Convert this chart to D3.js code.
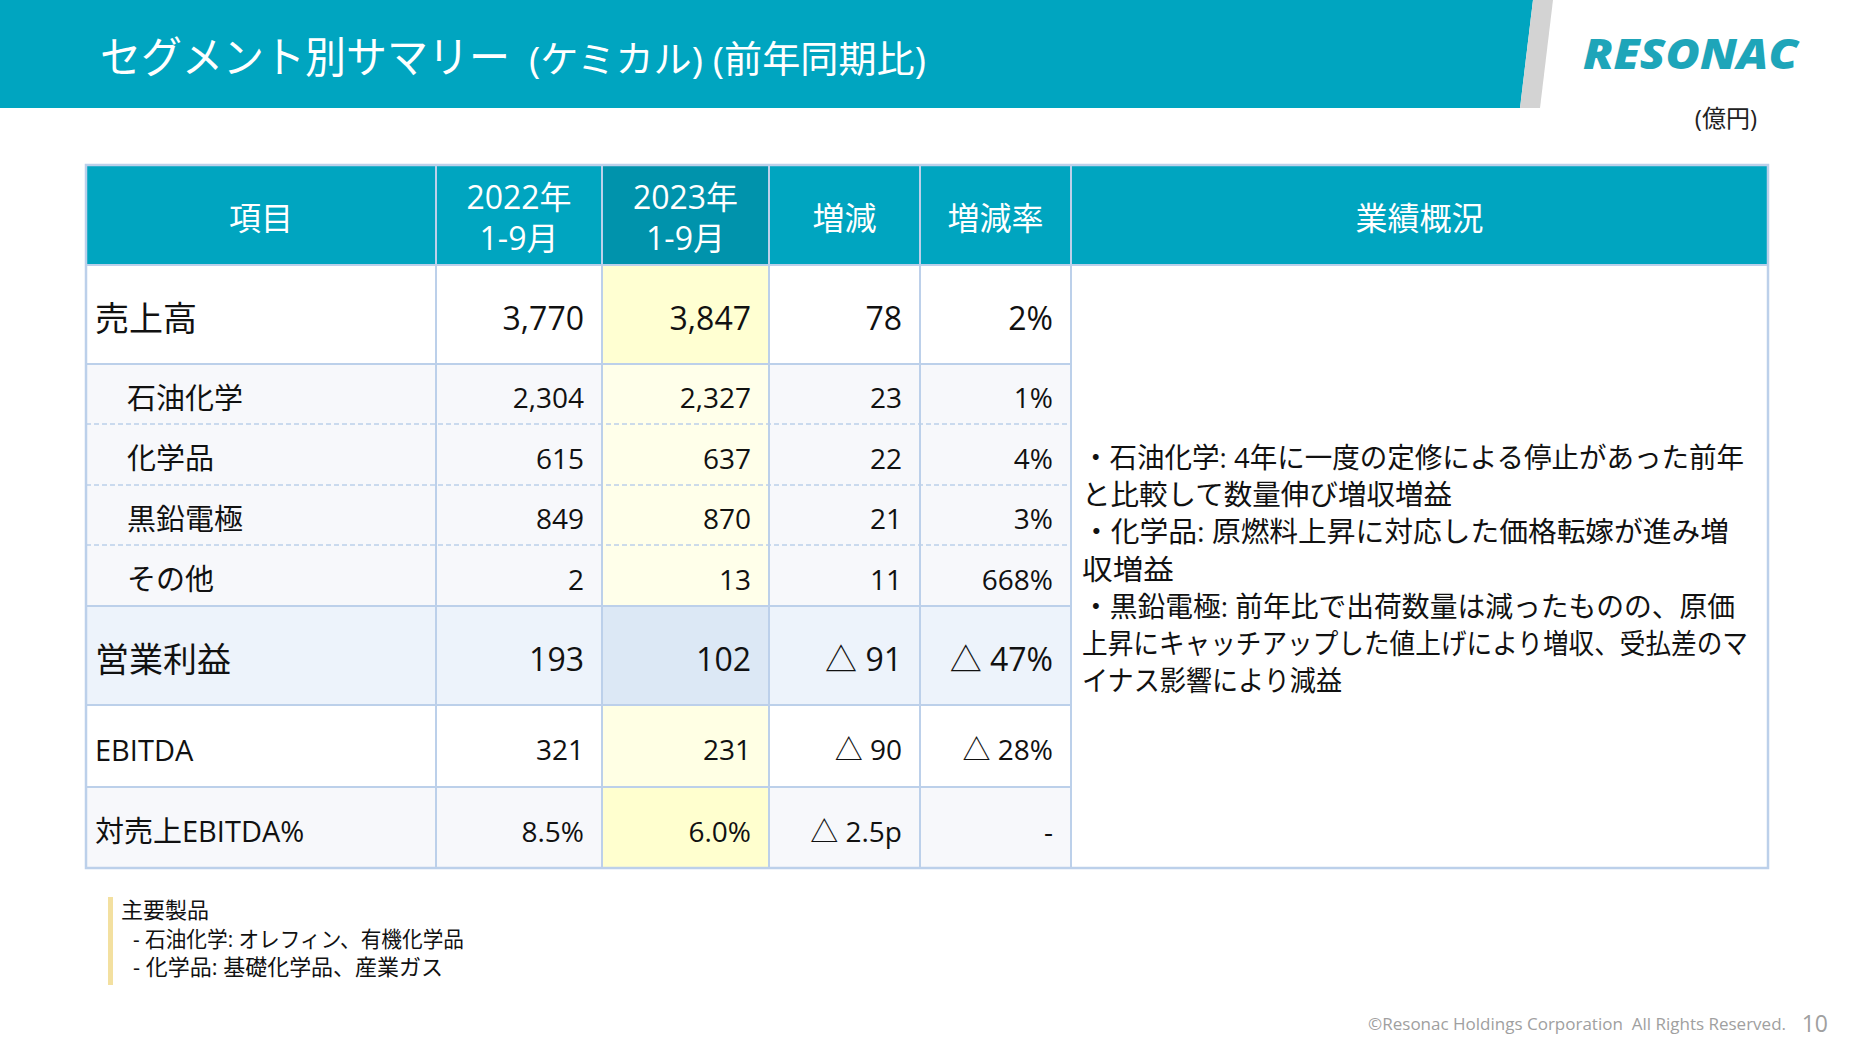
<!DOCTYPE html>
<html><head><meta charset="utf-8">
<script src="https://cdn.jsdelivr.net/npm/d3@7/dist/d3.min.js"></script>
<style>
html,body{margin:0;padding:0;background:#fff;}
svg{display:block;}
text{font-family:"Open Sans","Noto Sans CJK JP",sans-serif;}
</style></head>
<body>
<script>
// ---- data ----
const rowLabels = ["売上高","石油化学","化学品","黒鉛電極","その他","営業利益","EBITDA","対売上EBITDA%"];
const rowKinds  = ["main","sub","sub","sub","sub","main2","ebitda","ratio"];
const v2022 = [3770, 2304, 615, 849, 2, 193, 321, 8.5];
const v2023 = [3847, 2327, 637, 870, 13, 102, 231, 6.0];
const vChange = [78, 23, 22, 21, 11, -91, -90, -2.5];
const vRate = [2, 1, 4, 3, 668, -47, -28, null];
const headers = [["項目"],["2022年","1-9月"],["2023年","1-9月"],["増減"],["増減率"],["業績概況"]];
const summaryLines = [
 "・石油化学: 4年に一度の定修による停止があった前年",
 "と比較して数量伸び増収増益",
 "・化学品: 原燃料上昇に対応した価格転嫁が進み増",
 "収増益",
 "・黒鉛電極: 前年比で出荷数量は減ったものの、原価",
 "上昇にキャッチアップした値上げにより増収、受払差のマ",
 "イナス影響により減益"
];
const noteLines = ["主要製品","- 石油化学: オレフィン、有機化学品","- 化学品: 基礎化学品、産業ガス"];
const titleMain = "セグメント別サマリー";
const titleSub = "(ケミカル) (前年同期比)";
const unitLabel = "(億円)";
const footerText = "©Resonac Holdings Corporation  All Rights Reserved.";
const pageNo = "10";

// ---- layout ----
const W = 1855, H = 1044;
const svg = d3.select("body").append("svg").attr("width", W).attr("height", H);
const TEAL = "#00a5c0", TEAL_D = "#0093ac", GRID = "#bcd0ea";

// banner
svg.append("polygon").attr("points","0,0 1533,0 1520,108 0,108").attr("fill",TEAL);
svg.append("polygon").attr("points","1533,0 1553,0 1540,108 1520,108").attr("fill","#d3d3d3");
svg.append("text").attr("x",100).attr("y",73).attr("fill","#fff").attr("font-size",43)
  .attr("textLength",410).attr("lengthAdjust","spacingAndGlyphs").text(titleMain);
svg.append("text").attr("x",529).attr("y",73).attr("fill","#fff").attr("font-size",37)
  .attr("textLength",397).attr("lengthAdjust","spacingAndGlyphs").text(titleSub);
svg.append("text").attr("x",1583).attr("y",69).attr("fill","#1ea5b9")
  .attr("font-family","Liberation Sans").attr("font-weight",900).attr("font-style","italic")
  .attr("font-size",42).attr("textLength",215).attr("lengthAdjust","spacingAndGlyphs").text("RESONAC");
svg.append("text").attr("x",1757).attr("y",127).attr("text-anchor","end").attr("font-size",24).attr("fill","#222").text(unitLabel);

// table geometry
const colEdges = [86, 436, 602, 769, 920, 1071, 1768];
const rowHeights = [99, 60, 61, 60, 61, 99, 82, 81];
const headTop = 165, headBot = 265;
const rowEdges = [headBot];
rowHeights.forEach(h => rowEdges.push(rowEdges[rowEdges.length-1] + h));
const yBand = d3.scaleOrdinal().domain(d3.range(rowLabels.length)).range(rowEdges.slice(0,-1));
const xCol = d3.scaleOrdinal().domain(d3.range(colEdges.length)).range(colEdges);

const bgRow = {main:"#ffffff", sub:"#f7f8fb", main2:"#edf3fb", ebitda:"#ffffff", ratio:"#f7f8fb"};
const bg23 = {main:"#ffffd2", sub:"#ffffea", main2:"#dce8f5", ebitda:"#ffffe4", ratio:"#ffffcf"};
const numSize = {main:32, sub:28, main2:32, ebitda:28, ratio:28};
const labSize = {main:34, sub:29, main2:34, ebitda:29, ratio:29};

// header
headers.forEach((h,i) => {
  svg.append("rect").attr("x",xCol(i)).attr("y",headTop).attr("width",xCol(i+1)-xCol(i)).attr("height",headBot-headTop)
    .attr("fill", i===2 ? TEAL_D : TEAL);
  const cx = (xCol(i)+xCol(i+1))/2;
  if (h.length===1) {
    svg.append("text").attr("x",cx).attr("y",(headTop+headBot)/2+2).attr("text-anchor","middle")
      .attr("dominant-baseline","central").attr("font-size",32).attr("fill","#fff").text(h[0]);
  } else {
    h.forEach((s,j)=>svg.append("text").attr("x",cx).attr("y",196+j*41).attr("text-anchor","middle")
      .attr("dominant-baseline","central").attr("font-size",32).attr("fill","#fff").text(s));
  }
});

const fmtInt = d3.format(",");
function fmtVal(v,i){ return rowKinds[i]==="ratio" ? d3.format(".1f")(v)+"%" : fmtInt(v); }
function fmtChg(v,i){ const s = rowKinds[i]==="ratio" ? d3.format(".1f")(Math.abs(v))+"p" : fmtInt(Math.abs(v)); return v<0 ? "△ "+s : s; }
function fmtRate(v){ if (v===null) return "-"; return v<0 ? "△ "+Math.abs(v)+"%" : v+"%"; }

// body rows
rowLabels.forEach((lab,i)=>{
  const k = rowKinds[i], y0 = yBand(i), h = rowHeights[i];
  for (let c=0;c<5;c++){
    svg.append("rect").attr("x",xCol(c)).attr("y",y0).attr("width",xCol(c+1)-xCol(c)).attr("height",h)
      .attr("fill", c===2 ? bg23[k] : bgRow[k]);
  }
  const cy = y0 + h/2 + 3;
  svg.append("text").attr("x", k==="sub" ? 127 : 95).attr("y",cy).attr("dominant-baseline","central")
    .attr("font-size",labSize[k]).attr("fill","#111").text(lab);
  const vals = [fmtVal(v2022[i],i), fmtVal(v2023[i],i), fmtChg(vChange[i],i), fmtRate(vRate[i])];
  vals.forEach((s,j)=>{
    svg.append("text").attr("x",xCol(j+2)-18).attr("y",cy).attr("text-anchor","end")
      .attr("dominant-baseline","central").attr("font-size",numSize[k]).attr("fill","#111").text(s);
  });
});
// summary merged cell
svg.append("rect").attr("x",xCol(5)).attr("y",headBot).attr("width",xCol(6)-xCol(5)).attr("height",rowEdges[rowEdges.length-1]-headBot).attr("fill","#fff");
const lineW = [662, 370, 647, 92, 653, 666, 260];
svg.append("g").selectAll("text").data(summaryLines).join("text")
  .attr("x",1082).attr("y",(d,i)=>457+i*37.2).attr("dominant-baseline","central")
  .attr("font-size",28).attr("fill","#111")
  .attr("textLength",(d,i)=>lineW[i]).attr("lengthAdjust","spacingAndGlyphs").text(d=>d);

// grid lines
const tBot = rowEdges[rowEdges.length-1];
const g = svg.append("g").attr("stroke",GRID).attr("fill","none");
rowEdges.forEach((y,i)=>{
  if (i===0 || i===rowEdges.length-1) return;
  const dashed = i>=2 && i<=4;
  g.append("line").attr("x1",colEdges[0]).attr("x2",colEdges[5]).attr("y1",y).attr("y2",y)
    .attr("stroke-width", dashed?1.5:2).attr("stroke-dasharray", dashed?"5,3":null);
});
g.append("line").attr("x1",colEdges[0]).attr("x2",colEdges[6]).attr("y1",headBot).attr("y2",headBot).attr("stroke-width",2);
colEdges.forEach((x,i)=>{
  if (i===0 || i===6) return;
  g.append("line").attr("x1",x).attr("x2",x).attr("y1",headTop).attr("y2",tBot).attr("stroke-width",2);
});
g.append("rect").attr("x",colEdges[0]).attr("y",headTop).attr("width",colEdges[6]-colEdges[0]).attr("height",tBot-headTop).attr("stroke-width",2.5);

// footnote
const noteW = [null, 331, 310];
svg.append("rect").attr("x",108).attr("y",897).attr("width",5).attr("height",88).attr("fill","#f3e0a0");
svg.append("g").selectAll("text").data(noteLines).join("text")
  .attr("x",(d,i)=> i===0 ? 121 : 133).attr("y",(d,i)=>909+i*28.5).attr("dominant-baseline","central")
  .attr("font-size",22).attr("fill","#111")
  .attr("textLength",(d,i)=>noteW[i]).attr("lengthAdjust","spacingAndGlyphs").text(d=>d);

// footer
svg.append("text").attr("x",1786).attr("y",1023).attr("text-anchor","end").attr("dominant-baseline","central")
  .attr("font-size",17).attr("fill","#a0a0a0").style("white-space","pre").text(footerText);
svg.append("text").attr("x",1828).attr("y",1023).attr("text-anchor","end").attr("dominant-baseline","central")
  .attr("font-size",23).attr("fill","#a0a0a0").text(pageNo);
</script>
</body></html>
